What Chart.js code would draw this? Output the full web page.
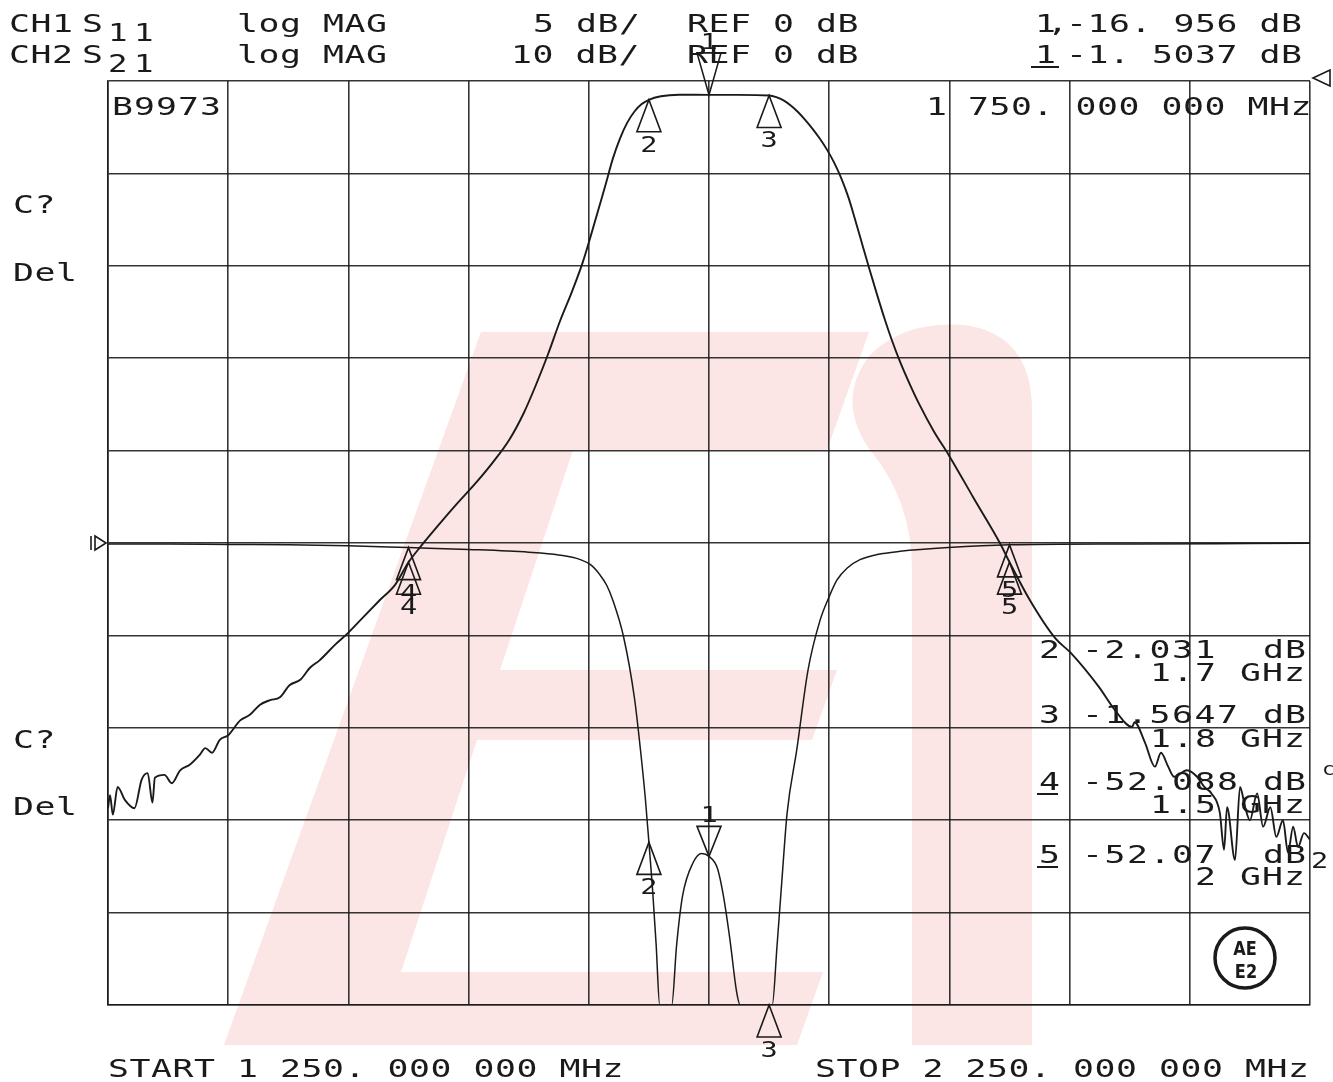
<!DOCTYPE html>
<html>
<head>
<meta charset="utf-8">
<title>B9973 S11 / S21</title>
<script src="https://cdn.jsdelivr.net/npm/chart.js@4.4.1/dist/chart.umd.min.js"></script>
<style>
  html, body { margin: 0; padding: 0; background: #fff; }
  canvas { display: block; }
</style>
</head>
<body>
<canvas id="plot" width="1333" height="1082"></canvas>
<script>
// sweep: 1250 .. 2250 MHz, 100 MHz/div
var sweepStart = 1250;
var sweepStop = 2250;

// CH2 S21 (dB), 10 dB/div, ref 0 dB at top
var s21Freq = [1250, 1251.7, 1254, 1258, 1264, 1272, 1278, 1283, 1287, 1289,
    1297, 1303, 1310, 1318, 1326.5, 1331, 1336.5, 1343, 1350, 1360,
    1368, 1376.5, 1385, 1393, 1401, 1410, 1418, 1426, 1439, 1450,
    1464, 1476, 1489, 1500, 1510, 1526, 1540, 1556, 1570, 1584,
    1596, 1606, 1616, 1626, 1636, 1645, 1652, 1658, 1664, 1670,
    1676, 1682, 1688, 1694, 1700, 1710, 1725, 1750, 1775, 1800,
    1806, 1812, 1818, 1824, 1830, 1836, 1842, 1848, 1854, 1860,
    1866, 1872, 1878, 1884, 1890, 1896, 1902, 1909, 1917, 1925,
    1937, 1950, 1970, 1992, 2000, 2017, 2038, 2051, 2074.5, 2087.8,
    2102, 2104, 2112.7, 2121, 2126, 2132, 2137, 2147.7, 2156, 2162,
    2168, 2175, 2178.5, 2181, 2187.6, 2191.8, 2196, 2200, 2206, 2211,
    2217, 2222, 2227.5, 2231.7, 2236, 2240, 2245, 2250];
var s21Db = [-78.7, -77.3, -79.4, -76.4, -77.8, -78.7, -75.6, -74.9, -78.1, -75.4,
    -75.1, -76.0, -74.6, -74.0, -72.9, -72.2, -72.7, -71.3, -70.8, -69.2,
    -68.6, -67.5, -67.0, -66.7, -65.4, -64.8, -63.5, -62.7, -61.0, -59.7,
    -57.8, -56.2, -54.5, -52.088, -50.4, -47.9, -45.8, -43.5, -41.3, -38.8,
    -35.9, -32.9, -29.6, -26.0, -22.8, -19.6, -16.6, -13.9, -11.2, -8.4,
    -6.2, -4.5, -3.3, -2.5, -2.031, -1.65, -1.48, -1.5037, -1.5, -1.5647,
    -1.75, -2.1, -2.65, -3.35, -4.2, -5.15, -6.2, -7.4, -8.8, -10.5,
    -12.6, -15.2, -17.9, -20.6, -23.2, -25.7, -28.0, -30.4, -32.8, -35.0,
    -37.9, -40.6, -45.1, -50.0, -52.07, -56.2, -60.3, -61.9, -65.6, -68.1,
    -69.9, -69.4, -71.6, -74.2, -72.7, -74.2, -75.3, -74.6, -75.3, -76.4,
    -77.1, -79.2, -83.2, -78.6, -84.3, -76.4, -78.6, -80.0, -77.1, -80.7,
    -78.6, -81.8, -80.0, -83.5, -80.7, -82.9, -81.4, -82.1];

// CH1 S11 (dB), 5 dB/div, ref 0 dB at centre line
var s11Freq = [1250, 1300, 1350, 1400, 1450, 1500, 1550, 1600, 1625, 1643,
    1652, 1659, 1665, 1670, 1679, 1688, 1693, 1697, 1700, 1703,
    1706, 1709, 1719, 1723, 1728, 1736.7, 1744, 1750, 1757, 1762,
    1767.5, 1773, 1776, 1802.6, 1806.6, 1810.7, 1815, 1823, 1832.3, 1842.3,
    1850, 1856.5, 1865, 1875.6, 1890, 1909, 1949, 2000, 2100, 2200,
    2250];
var s11Db = [-0.05, -0.05, -0.08, -0.1, -0.15, -0.25, -0.35, -0.5, -0.65, -0.9,
    -1.2, -1.7, -2.3, -3.1, -5.1, -8.4, -11.2, -13.8, -16.2, -18.7,
    -21.7, -25, -25, -21.8, -19.1, -17.3, -16.8, -16.956, -17.6, -19.1,
    -21.5, -24.3, -25, -25, -21.8, -18.2, -14.6, -11.2, -6.9, -4.2,
    -2.9, -2.0, -1.35, -0.9, -0.62, -0.45, -0.25, -0.1, -0.05, -0.03,
    -0.02];

// markers 1..5
var markerFreq = [1750, 1700, 1800, 1500, 2000];
var markerName = ['1', '2', '3', '4', '5'];
var s11MarkerDb = [-16.956, -16.2, -25, -0.25, -0.1];
var s21MarkerDb = [-1.5037, -2.031, -1.5647, -52.088, -52.07];

var INK = '#1a1a1a';
var GRID = 'rgba(25,25,25,0.88)';
var PINK = '#fce5e5';

var toPoints = function (xs, ys) {
    return xs.map(function (f, i) { return { x: f, y: ys[i] }; });
};

// plotter-like fixed pitch text
var monoText = function (ctx, str, x, y, opts) {
    opts = opts || {};
    var pitch = opts.pitch || 21.5;
    var size = opts.size || 24;
    var sx = opts.sx || 1.45;
    ctx.save();
    ctx.font = size + 'px "DejaVu Sans Mono"';
    ctx.fillStyle = INK;
    ctx.textAlign = opts.center ? 'center' : 'left';
    for (var i = 0; i < str.length; i++) {
        if (str[i] === ' ') continue;
        ctx.save();
        ctx.translate(x + i * pitch, y);
        ctx.scale(sx, 1);
        ctx.fillText(str[i], 0, 0);
        ctx.restore();
    }
    ctx.restore();
};

var triMarker = function (ctx, x, y, label, down, h) {
    h = h || 32;
    var dir = down ? -1 : 1;
    ctx.save();
    ctx.strokeStyle = INK;
    ctx.lineWidth = 1.6;
    ctx.beginPath();
    ctx.moveTo(x, y);
    ctx.lineTo(x - 12, y + dir * h);
    ctx.lineTo(x + 12, y + dir * h);
    ctx.closePath();
    ctx.stroke();
    ctx.restore();
    var ly = down ? y - h - 4 : y + h + 20;
    monoText(ctx, label, x, ly, { size: 22, sx: 1.3, center: true });
};

var logoPlugin = {
    id: 'logo',
    beforeDraw: function (chart) {
        var ctx = chart.ctx;
        ctx.save();
        ctx.fillStyle = '#fff';
        ctx.fillRect(0, 0, chart.width, chart.height);
        ctx.fillStyle = PINK;
        // slanted "E"
        ctx.beginPath();
        ctx.moveTo(481, 332); ctx.lineTo(869, 332); ctx.lineTo(827, 450);
        ctx.lineTo(573, 450); ctx.lineTo(500, 670); ctx.lineTo(837, 670);
        ctx.lineTo(812, 740); ctx.lineTo(477, 740); ctx.lineTo(401, 972);
        ctx.lineTo(823, 972); ctx.lineTo(797, 1045); ctx.lineTo(224, 1045);
        ctx.closePath();
        ctx.fill();
        // hooked "i"
        ctx.beginPath();
        ctx.moveTo(912, 1045);
        ctx.lineTo(912, 570);
        ctx.quadraticCurveTo(912, 500, 870, 450);
        ctx.quadraticCurveTo(835, 400, 870, 355);
        ctx.quadraticCurveTo(905, 320, 965, 325);
        ctx.quadraticCurveTo(1032, 335, 1032, 410);
        ctx.lineTo(1032, 1045);
        ctx.closePath();
        ctx.fill();
        ctx.restore();
    }
};

var annotatePlugin = {
    id: 'annotate',
    afterDraw: function (chart) {
        var ctx = chart.ctx;
        var xs = chart.scales.x, y21 = chart.scales.y, y11 = chart.scales.y2;

        // header
        monoText(ctx, 'CH1', 9, 32);
        monoText(ctx, 'S', 82, 32);
        monoText(ctx, '11', 108, 41, { size: 24, pitch: 26, sx: 1.35 });
        monoText(ctx, 'log MAG', 237, 32);
        monoText(ctx, '5 dB/', 533, 32);
        monoText(ctx, 'REF 0 dB', 687, 32);
        monoText(ctx, '1,', 1035, 32, { pitch: 12 });
        monoText(ctx, '-16. 956 dB', 1066, 32);

        monoText(ctx, 'CH2', 9, 63);
        monoText(ctx, 'S', 82, 63);
        monoText(ctx, '21', 108, 72, { size: 24, pitch: 26, sx: 1.35 });
        monoText(ctx, 'log MAG', 237, 63);
        monoText(ctx, '10 dB/', 511, 63);
        monoText(ctx, 'REF 0 dB', 687, 63);
        monoText(ctx, '1', 1035, 63);
        monoText(ctx, '-1. 5037 dB', 1066, 63);
        ctx.save();
        ctx.strokeStyle = INK;
        ctx.lineWidth = 2;
        ctx.beginPath();
        ctx.moveTo(1031, 67); ctx.lineTo(1059, 67);
        ctx.moveTo(1037, 794); ctx.lineTo(1058, 794);
        ctx.moveTo(1037, 867); ctx.lineTo(1058, 867);
        ctx.stroke();
        ctx.restore();

        // in-grid labels
        monoText(ctx, 'B9973', 112, 115, { pitch: 22 });
        monoText(ctx, '1', 926, 115);
        monoText(ctx, '750. 000 000 MHz', 968, 115);

        monoText(ctx, 'C?', 13, 213);
        monoText(ctx, 'Del', 13, 281);
        monoText(ctx, 'C?', 13, 748);
        monoText(ctx, 'Del', 13, 815);

        // marker readout list
        var lx = 1039;
        monoText(ctx, '2', lx, 658);
        monoText(ctx, '-2.031', 1082, 658, { pitch: 22.5 });
        monoText(ctx, 'dB', 1263, 658, { pitch: 22 });
        monoText(ctx, '1.7', 1150, 681, { pitch: 22.5 });
        monoText(ctx, 'GHz', 1240, 681, { pitch: 22 });
        monoText(ctx, '3', lx, 723);
        monoText(ctx, '-1.5647', 1082, 723, { pitch: 22.5 });
        monoText(ctx, 'dB', 1263, 723, { pitch: 22 });
        monoText(ctx, '1.8', 1150, 747, { pitch: 22.5 });
        monoText(ctx, 'GHz', 1240, 747, { pitch: 22 });
        monoText(ctx, '4', lx, 790);
        monoText(ctx, '-52.088', 1082, 790, { pitch: 22.5 });
        monoText(ctx, 'dB', 1263, 790, { pitch: 22 });
        monoText(ctx, '1.5', 1150, 813, { pitch: 22.5 });
        monoText(ctx, 'GHz', 1240, 813, { pitch: 22 });
        monoText(ctx, '5', lx, 863);
        monoText(ctx, '-52.07', 1082, 863, { pitch: 22.5 });
        monoText(ctx, 'dB', 1263, 863, { pitch: 22 });
        monoText(ctx, '2', 1195, 885, { pitch: 22.5 });
        monoText(ctx, 'GHz', 1240, 885, { pitch: 22 });

        // footer
        monoText(ctx, 'START 1 250. 000 000 MHz', 108, 1077);
        monoText(ctx, 'STOP 2 250. 000 000 MHz', 815, 1077);

        // reference pointers
        ctx.save();
        ctx.strokeStyle = INK;
        ctx.fillStyle = INK;
        ctx.lineWidth = 1.6;
        var r11 = y11.getPixelForValue(0);
        ctx.beginPath();
        ctx.moveTo(95, r11 - 7); ctx.lineTo(106, r11); ctx.lineTo(95, r11 + 7); ctx.closePath();
        ctx.stroke();
        ctx.beginPath();
        ctx.moveTo(91, r11 - 7); ctx.lineTo(91, r11 + 7);
        ctx.stroke();
        var r21 = y21.getPixelForValue(0);
        ctx.beginPath();
        ctx.moveTo(1313, r21 - 3); ctx.lineTo(1330, r21 - 11); ctx.lineTo(1330, r21 + 5); ctx.closePath();
        ctx.stroke();
        ctx.restore();
        monoText(ctx, '2', 1311, 868, { size: 22, sx: 1.3 });
        monoText(ctx, 'c', 1322, 775, { size: 18, sx: 1.2 });

        // AE E2 badge
        ctx.save();
        ctx.strokeStyle = INK;
        ctx.lineWidth = 3.5;
        ctx.beginPath();
        ctx.arc(1245, 958, 30, 0, Math.PI * 2);
        ctx.stroke();
        ctx.fillStyle = INK;
        ctx.textAlign = 'center';
        ctx.font = 'bold 19px "DejaVu Sans"';
        ctx.save(); ctx.translate(1245, 955); ctx.scale(0.85, 1); ctx.fillText('AE', 0, 0); ctx.restore();
        ctx.save(); ctx.translate(1246, 978); ctx.scale(0.85, 1); ctx.fillText('E2', 0, 0); ctx.restore();
        ctx.restore();

        // trace markers
        markerFreq.forEach(function (f, i) {
            var px = xs.getPixelForValue(f);
            var p11 = y11.getPixelForValue(s11MarkerDb[i]);
            var p21 = y21.getPixelForValue(s21MarkerDb[i]);
            if (i === 0) {
                triMarker(ctx, px, p11, markerName[i], true, 30);
                triMarker(ctx, px, p21, markerName[i], true, 42);
            } else {
                triMarker(ctx, px, p11, markerName[i], false);
                triMarker(ctx, px, p21, markerName[i], false);
            }
        });
    }
};

var gridStyle = { color: GRID, lineWidth: 1.6, drawTicks: false };
var borderStyle = { color: GRID, width: 1.6 };

new Chart(document.getElementById('plot'), {
    type: 'line',
    data: {
        datasets: [{
            label: 'S21',
            data: toPoints(s21Freq, s21Db),
            yAxisID: 'y',
            borderColor: INK,
            borderWidth: 1.9,
            pointRadius: 0,
            cubicInterpolationMode: 'monotone',
            fill: false
        }, {
            label: 'S11',
            data: toPoints(s11Freq, s11Db),
            yAxisID: 'y2',
            borderColor: INK,
            borderWidth: 1.5,
            pointRadius: 0,
            cubicInterpolationMode: 'monotone',
            fill: false
        }]
    },
    options: {
        responsive: false,
        animation: false,
        devicePixelRatio: 1,
        layout: { padding: { left: 108, top: 81, right: 23, bottom: 77 } },
        plugins: { legend: { display: false }, tooltip: { enabled: false } },
        scales: {
            x: {
                type: 'linear', min: sweepStart, max: sweepStop,
                ticks: { display: false, stepSize: 100 },
                grid: gridStyle, border: borderStyle
            },
            y: {
                min: -100, max: 0,
                ticks: { display: false, stepSize: 10 },
                grid: gridStyle, border: borderStyle
            },
            y2: {
                display: false, position: 'right', min: -25, max: 25
            }
        }
    },
    plugins: [logoPlugin, annotatePlugin]
});
</script>
</body>
</html>
